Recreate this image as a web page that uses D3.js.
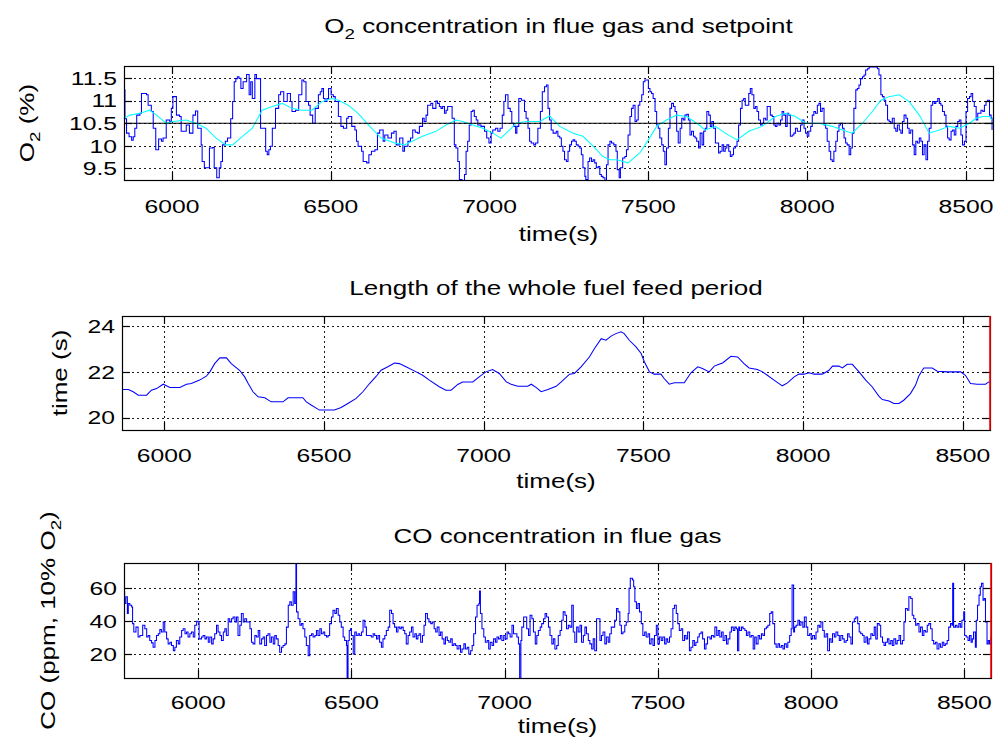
<!DOCTYPE html>
<html><head><meta charset="utf-8">
<script src="https://cdn.jsdelivr.net/npm/d3@7"></script>
<style>
body{margin:0;background:#fff}
svg{display:block}
text{font-family:"Liberation Sans",Arial,Helvetica,sans-serif;fill:#000}
</style>
</head><body>
<svg id="c" width="1000" height="747"></svg>
<script>
// ---------------- DATA ----------------
const xTicks = [6000, 6500, 7000, 7500, 8000, 8500];
const o2Ticks = [9.5, 10, 10.5, 11, 11.5];
const periodTicks = [20, 22, 24];
const coTicks = [20, 40, 60];
const o2Reference = 10.5;

// O2 concentration in flue gas [time (s), O2 (%)]
const o2Measured = [
[5849,11.24],[5852,10.6],[5857,10.28],[5865,10.2],[5873,10.12],[5878,10.2],[5883,10.39],[5889,10.68],[5899,10.72],[5904,11.16],[5911,11.16],[5920,11.13],[5925,10.90],[5935,10.76],[5941,10.39],[5949,9.91],[5953,9.91],[5958,10.15],[5967,10.10],[5972,10.17],[5982,10.57],[5993,10.54],[5998,10.83],[6003,11.09],[6014,10.68],[6024,10.65],[6029,10.32],[6040,10.32],[6045,10.46],[6055,10.28],[6066,10.68],[6074,10.77],[6081,10.39],[6092,10.02],[6095,9.65],[6102,9.51],[6113,9.51],[6118,9.95],[6128,9.96],[6133,9.51],[6141,9.29],[6149,9.51],[6154,9.65],[6159,10.02],[6168,10.10],[6175,10.17],[6185,10.6],[6191,10.98],[6196,11.42],[6201,11.49],[6206,11.53],[6211,11.5],[6217,11.27],[6224,11.42],[6235,11.58],[6243,11.13],[6248,11.42],[6253,11.05],[6261,11.58],[6266,11.49],[6279,10.39],[6295,9.88],[6300,9.80],[6305,9.91],[6310,9.99],[6316,10.39],[6321,10.39],[6326,10.83],[6336,11.13],[6342,11.20],[6352,10.98],[6363,11.16],[6373,10.98],[6378,10.76],[6389,10.79],[6399,11.13],[6409,11.46],[6415,11.42],[6422,10.98],[6430,10.90],[6435,10.68],[6443,10.50],[6451,10.83],[6461,11.13],[6467,11.20],[6472,11.27],[6477,11.05],[6482,10.98],[6488,11.05],[6493,11.27],[6501,11.13],[6508,11.09],[6514,10.98],[6524,10.65],[6532,10.43],[6540,10.39],[6550,10.61],[6555,10.65],[6566,10.43],[6576,10.35],[6581,10.10],[6586,9.99],[6597,9.88],[6602,9.65],[6613,9.62],[6620,9.80],[6628,9.88],[6639,9.91],[6647,10.28],[6654,10.35],[6665,10.10],[6670,10.24],[6680,10.17],[6691,10.28],[6699,10.32],[6706,10.02],[6717,10.17],[6727,9.88],[6732,9.99],[6743,10.10],[6751,10.17],[6758,10.35],[6766,10.30],
[6773,10.28],[6779,10.43],[6789,10.61],[6794,10.54],[6800,10.68],[6805,10.90],[6815,10.94],[6821,10.83],[6831,10.99],[6836,10.94],[6842,10.87],[6847,10.83],[6852,10.87],[6858,10.72],[6863,10.79],[6868,10.87],[6875,10.87],[6882,10.61],[6889,10.02],[6894,9.95],[6900,9.65],[6905,9.25],[6913,9.21],[6921,9.36],[6926,9.88],[6931,10.10],[6936,10.46],[6942,10.76],[6947,10.79],[6952,10.65],[6958,10.57],[6963,10.46],[6973,10.43],[6984,10.32],[6991,10.17],[6998,10.06],[7005,10.28],[7010,10.35],[7019,10.39],[7026,10.32],[7033,10.39],[7040,10.68],[7045,10.98],[7050,11.13],[7058,10.83],[7065,10.76],[7070,10.50],[7076,10.43],[7082,10.28],[7086,10.43],[7092,11.05],[7100,11.01],[7110,10.76],[7115,10.61],[7121,10.39],[7126,10.10],[7131,10.06],[7139,10.02],[7145,10.06],[7152,10.39],[7160,10.76],[7166,11.20],[7173,11.31],[7179,11.35],[7184,10.83],[7189,10.57],[7194,10.35],[7200,10.28],[7210,10.32],[7215,10.21],[7221,10.17],[7226,9.99],[7231,9.88],[7236,9.69],[7242,9.65],[7247,9.88],[7252,10.02],[7258,10.10],[7263,10.13],[7268,10.10],[7273,10.02],[7279,9.99],[7284,9.95],[7289,9.80],[7294,9.51],[7300,9.32],[7303,9.25],[7310,9.65],[7315,9.73],[7321,9.65],[7326,9.69],[7331,9.62],[7336,9.51],[7342,9.54],[7347,9.36],[7352,9.32],[7357,9.29],[7363,9.21],[7368,9.58],[7373,10.02],[7379,10.10],[7384,10.06],[7391,10.02],[7398,9.88],[7402,9.47],[7408,9.29],[7412,9.51],[7419,9.73],[7426,9.76],[7431,9.91],[7436,10.24],[7442,10.65],[7447,10.83],[7452,10.90],[7458,10.54],[7463,10.57],[7468,10.90],[7473,10.98],[7479,11.13],[7484,11.42],[7489,11.46],[7494,11.46],[7500,11.27],[7505,11.20],[7510,11.16],[7515,11.05],[7521,10.76],[7526,10.46],[7531,10.39],[7536,10.17],[7542,10.02],[7547,9.88],[7552,9.58],[7557,9.95],[7563,10.39],[7568,10.83],[7573,10.94],[7579,10.87],[7584,10.76],[7589,10.32],[7594,10.06],[7600,10.39],[7605,10.61],[7610,10.57],[7615,10.68],[7621,10.70],[7626,10.57],[7631,10.24],[7636,10.32],[7642,10.21],[7647,10.17],[7652,10.10],[7658,9.95],
[7663,10.28],[7669,10.02],[7674,10.32],[7679,10.39],[7684,10.76],[7690,10.68],[7695,10.43],[7700,10.54],[7705,10.39],[7711,10.06],[7716,10.06],[7721,9.84],[7726,9.88],[7732,10.02],[7737,9.88],[7742,9.95],[7747,10.02],[7753,9.88],[7758,9.76],[7763,9.80],[7768,9.95],[7774,9.99],[7779,10.10],[7784,10.46],[7790,10.83],[7795,11.01],[7800,11.05],[7805,10.90],[7811,10.90],[7816,11.16],[7821,11.27],[7826,11.13],[7832,10.83],[7837,10.87],[7842,10.76],[7847,10.57],[7853,10.46],[7858,10.50],[7863,10.61],[7869,10.57],[7874,10.87],[7879,10.87],[7884,10.68],[7890,10.65],[7895,10.46],[7900,10.43],[7905,10.50],[7911,10.46],[7916,10.57],[7921,10.76],[7926,10.68],[7932,10.43],[7937,10.72],[7942,10.68],[7947,10.21],[7953,10.24],[7958,10.28],[7963,10.39],[7969,10.32],[7974,10.32],[7979,10.46],[7984,10.57],[7990,10.39],[7995,10.28],[8000,10.21],[8005,10.32],[8011,10.43],[8016,10.68],[8021,10.76],[8026,10.72],[8032,10.90],[8037,10.94],[8042,10.76],[8047,10.83],[8053,10.46],[8058,10.39],[8063,10.10],[8069,9.88],[8074,9.69],[8079,9.65],[8084,9.88],[8090,10.10],[8095,10.32],[8100,10.46],[8105,10.50],[8111,10.39],[8116,10.17],[8121,10.06],[8126,10.02],[8132,9.80],[8137,9.95],[8142,10.28],[8147,10.83],[8153,11.24],[8158,11.27],[8163,11.35],[8168,11.49],[8174,11.53],[8179,11.57],[8184,11.68],[8190,11.71],[8195,11.75],[8205,11.75],[8216,11.75],[8221,11.71],[8226,11.57],[8232,11.13],[8237,11.09],[8242,11.01],[8247,10.90],[8253,10.57],[8258,10.54],[8263,10.50],[8268,10.61],[8274,10.39],[8279,10.32],[8284,10.46],[8290,10.35],[8295,10.28],[8300,10.54],[8305,10.68],[8311,10.61],[8316,10.39],[8321,10.28],[8326,10.35],[8332,10.02],[8337,9.80],[8342,10.10],[8347,10.06],[8353,10.17],[8358,10.10],[8363,9.80],[8368,10.02],[8374,9.69],[8379,10.10],[8384,10.39],[8390,10.90],[8395,10.98],[8400,10.94],[8405,10.98],[8411,11.05],[8416,10.94],[8421,10.90],[8426,10.76],[8432,10.68],[8437,10.43],[8442,10.17],[8447,10.13],[8453,10.32],[8458,10.35],[8463,10.24],[8468,10.43],[8474,10.54],[8479,10.57],[8484,10.24],[8489,10.02],[8495,10.10],[8500,10.76],[8505,11.05],[8511,11.09],[8516,11.16],[8521,10.98],[8526,10.87],[8532,10.57],[8537,10.72],[8542,10.72],[8547,10.79],[8553,10.76],[8558,10.90],[8563,10.98],[8568,11.01],[8574,10.68],[8579,10.61],[8582,10.35]
];

// O2 setpoint [time (s), O2 (%)]
const o2Setpoint = [
[5849,10.61],[5868,10.68],[5899,10.72],[5930,10.79],[5951,10.68],[5982,10.50],[6003,10.54],[6045,10.57],[6076,10.50],[6107,10.39],[6139,10.17],[6170,10.02],[6191,10.02],[6222,10.21],[6253,10.39],[6284,10.79],[6316,10.87],[6347,10.94],[6378,10.83],[6409,10.79],[6441,10.79],[6472,10.98],[6503,11.05],[6524,11.01],[6555,10.90],[6586,10.72],[6628,10.39],[6659,10.17],[6701,10.06],[6732,10.02],
[6789,10.21],[6831,10.32],[6863,10.46],[6894,10.57],[6915,10.54],[6947,10.46],[6979,10.39],[7010,10.28],[7036,10.17],[7063,10.35],[7084,10.50],[7115,10.54],[7158,10.54],[7189,10.66],[7221,10.43],[7263,10.28],[7294,10.21],[7326,9.99],[7357,9.76],[7379,9.69],[7400,9.69],[7436,9.62],[7473,9.84],[7500,10.13],[7526,10.43],[7557,10.57],[7589,10.68],[7621,10.65],[7652,10.50],
[7679,10.35],[7711,10.43],[7742,10.28],[7779,10.13],[7816,10.32],[7858,10.43],[7900,10.65],[7932,10.72],[7963,10.65],[7995,10.50],[8037,10.50],[8079,10.43],[8111,10.35],[8142,10.28],[8174,10.50],[8205,10.76],[8232,11.01],[8258,11.09],[8290,11.13],[8321,10.98],[8353,10.68],[8384,10.28],[8416,10.35],[8447,10.43],[8479,10.39],[8511,10.50],[8532,10.61],[8553,10.65],[8574,10.65],[8582,10.57]
];

// Length of the whole fuel feed period [time (s), period (s)]
const feedPeriod = [
[5869,21.23],[5888,21.23],[5903,21.13],[5919,20.98],[5945,20.98],[5960,21.20],[5976,21.27],[5997,21.46],[6018,21.32],[6049,21.32],[6070,21.46],[6085,21.49],[6111,21.64],[6132,21.81],[6143,22.00],[6158,22.36],[6174,22.61],[6195,22.61],[6210,22.36],[6236,22.07],[6252,21.78],[6263,21.49],[6278,21.13],[6294,20.91],[6315,20.87],[6335,20.69],[6372,20.69],[6388,20.87],[6434,20.87],[6445,20.69],[6460,20.55],[6486,20.33],[6533,20.33],[6554,20.44],[6575,20.62],[6601,20.84],[6622,21.13],[6643,21.49],[6664,21.81],[6679,22.07],[6700,22.22],[6721,22.39],[6736,22.36],[6757,22.22],[6789,22.00],[6809,21.85],[6830,21.64],[6861,21.35],[6882,21.20],[6898,21.20],[6919,21.45],[6934,21.56],[6966,21.56],[6986,21.78],[7007,22.00],[7028,22.10],[7049,21.93],
[7071,21.56],[7086,21.46],[7107,21.37],[7138,21.37],[7149,21.46],[7164,21.32],[7180,21.13],[7201,21.23],[7227,21.37],[7243,21.56],[7269,21.90],[7284,21.93],[7305,22.22],[7331,22.65],[7347,23.02],[7368,23.45],[7383,23.38],[7399,23.56],[7414,23.67],[7430,23.75],[7440,23.67],[7456,23.38],[7477,23.09],[7493,22.80],[7503,22.44],[7519,22.00],[7534,21.90],[7555,21.90],[7565,21.71],[7581,21.46],[7597,21.52],[7628,21.52],[7649,21.96],[7670,22.22],[7685,22.15],[7706,22.00],[7722,22.25],[7737,22.33],[7748,22.39],[7774,22.68],[7795,22.65],[7815,22.36],[7831,22.17],[7857,22.10],[7873,22.00],[7888,21.85],[7909,21.64],[7935,21.39],[7951,21.52],[7972,21.78],[7987,21.90],[8003,21.90],[8019,21.96],[8034,21.90],[8060,21.90],[8081,22.07],[8092,22.25],[8112,22.25],[8123,22.17],[8138,22.33],[8154,22.33],[8175,22.00],[8196,21.64],[8216,21.35],[8237,20.94],[8248,20.79],[8269,20.73],[8284,20.62],[8300,20.62],[8315,20.76],[8336,21.05],[8352,21.42],[8362,21.81],[8373,22.07],[8378,22.17],[8404,22.17],[8420,22.03],[8451,22.00],[8493,22.00],[8508,21.85],[8524,21.49],[8545,21.46],[8571,21.46],[8581,21.56],[8586,21.56]
];

// CO concentration in flue gas [time (s), CO (ppm, 10% O2)]
const coConcentration = [
[5758,57.7],[5760,50.6],[5764,54.6],[5769,44.5],[5772,50.6],[5777,49.5],[5783,48.5],[5786,38.4],[5790,33.3],[5797,36.3],[5804,30.3],[5810,31.3],[5819,37.4],[5826,35.3],[5832,30.3],[5837,31.3],[5842,28.2],[5848,26.8],[5853,24.2],[5859,28.2],[5864,31.3],[5870,32.3],[5875,34.9],[5880,33.3],[5886,39.4],[5891,33.3],[5897,29.2],[5902,26.2],[5908,27.2],[5913,25.2],[5919,22.1],[5924,24.2],[5929,28.2],[5935,26.2],[5940,30.3],[5946,34.3],[5951,35.3],[5957,32.3],[5962,33.3],[5967,30.3],[5973,32.3],[5978,33.3],[5984,30.3],[5989,37.4],[5995,39.8],[6000,39.4],[6003,29.2],[6011,30.3],[6016,31.3],[6022,29.2],[6027,30.3],[6033,27.2],[6038,30.3],[6044,26.2],[6049,29.2],[6054,32.3],[6060,37.4],[6065,33.3],[6071,31.3],[6076,28.2],[6082,33.3],[6087,35.3],[6092,31.3],[6098,41.4],[6103,39.4],[6109,41.4],[6114,42.4],[6120,39.4],[6125,42.4],[6130,31.3],[6136,37.4],[6141,44.5],[6147,39.4],[6152,41.4],[6158,39.4],[6163,39.4],[6169,35.3],[6174,27.2],[6179,26.2],[6185,31.3],[6190,30.3],[6196,34.3],[6201,26.2],[6207,29.2],[6212,30.3],[6217,25.2],[6223,31.3],[6228,32.3],[6234,27.2],[6239,30.3],[6245,26.2],[6250,31.3],[6255,29.2],[6261,25.2],[6266,21.1],[6272,24.2],[6277,25.2],[6283,26.2],[6288,36.3],[6294,49.5],[6299,51.6],[6304,49.5],[6310,57.7],[6315,50.6],[6319,76],[6321,45.5],[6326,41.4],[6332,37.4],[6337,38.4],[6342,35.3],[6348,30.3],[6353,25.2],[6359,19.1],[6364,31.3],[6370,32.3],[6375,30.3],[6381,31.3],[6386,34.3],[6391,31.3],[6397,35.3],[6402,32.3],[6408,33.3],[6413,31.3],[6419,30.3],[6424,31.3],[6429,38.4],[6435,42.4],[6440,46.5],[6446,44.5],[6451,47.5],[6457,43.5],[6462,39.4],[6467,36.3],[6473,30.3],[6478,28.2],[6484,25.2],[6486,4.9],[6489,28.2],[6493,34.3],[6497,35.3],[6500,31.3],[6506,20.1],[6511,33.3],[6516,31.3],[6522,32.3],[6527,31.3],[6533,33.3],[6538,40.4],[6544,36.3],[6549,31.3],[6554,31.3],[6560,31.3],[6565,30.3],[6571,32.3],[6576,31.3],[6582,29.2],[6587,31.3],[6592,27.2],[6598,24.2],[6603,29.2],[6609,31.3],[6614,34.3],[6620,36.3],[6625,46.5],[6631,44.5],[6636,38.4],[6641,36.3],[6647,33.3],[6652,36.3],[6658,35.3],[6663,36.3],[6669,34.3],[6674,32.3],[6679,26.2],[6685,31.3],[6690,33.3],[6696,36.3],[6701,30.3],[6707,32.3],[6712,29.2],[6717,31.3],
[6721,32.3],[6726,27.2],[6732,31.3],[6737,37.4],[6742,44.5],[6748,41.4],[6753,39.4],[6759,38.4],[6764,39.4],[6770,35.3],[6775,33.3],[6780,36.3],[6786,31.3],[6791,33.3],[6796,29.2],[6802,26.2],[6807,30.3],[6813,28.2],[6818,27.2],[6824,29.2],[6829,25.2],[6834,26.2],[6840,25.2],[6845,23.1],[6851,25.2],[6856,21.1],[6861,23.1],[6867,26.2],[6872,23.1],[6878,24.2],[6883,20.1],[6889,22.1],[6894,25.2],[6899,32.3],[6905,42.4],[6910,49.5],[6916,50.6],[6918,58.1],[6921,44.5],[6926,35.3],[6932,30.3],[6937,27.2],[6943,28.2],[6948,23.1],[6953,27.2],[6959,25.2],[6964,29.2],[6970,27.2],[6975,30.3],[6980,29.2],[6986,31.3],[6991,28.2],[6997,31.3],[7002,29.2],[7008,33.3],[7013,32.3],[7018,30.3],[7024,37.4],[7029,32.3],[7035,32.3],[7040,30.3],[7045,26.2],[7049,4.9],[7053,28.2],[7056,36.3],[7062,42.4],[7067,42.4],[7072,35.3],[7078,31.3],[7083,43.5],[7089,41.4],[7094,33.3],[7100,26.2],[7105,31.3],[7110,34.3],[7116,36.3],[7121,38.4],[7127,41.4],[7132,44.5],[7137,42.4],[7143,36.3],[7148,31.3],[7154,26.2],[7159,29.2],[7164,23.1],[7170,25.2],[7175,31.3],[7181,34.3],[7186,40.4],[7191,45.5],[7197,43.5],[7202,35.3],[7208,37.4],[7213,36.3],[7219,49.5],[7224,33.3],[7229,27.2],[7235,36.3],[7240,33.3],[7246,37.4],[7251,27.2],[7257,31.3],[7262,36.3],[7267,32.3],[7273,28.2],[7278,26.2],[7284,23.1],[7289,29.2],[7294,22.1],[7300,41.4],[7305,41.4],[7311,28.2],[7316,31.3],[7321,33.3],[7327,26.2],[7332,30.3],[7338,27.2],[7343,32.3],[7348,36.3],[7354,36.3],[7359,40.4],[7365,47.5],[7370,45.5],[7376,37.4],[7381,32.3],[7386,33.3],[7392,37.4],[7397,39.4],[7403,44.5],[7406,59.7],[7410,65.8],[7417,64.8],[7421,60.7],[7425,51.6],[7430,47.5],[7435,50.6],[7440,45.5],[7446,38.4],[7451,31.3],[7457,33.3],[7462,30.3],[7468,32.3],[7473,26.2],[7478,29.2],[7484,25.2],[7489,31.3],[7495,37.4],[7500,26.2],[7505,30.3],[7511,28.2],[7516,30.3],[7522,26.2],[7527,29.2],[7532,27.2],[7538,30.3],[7543,35.3],[7549,47.5],[7554,49.5],[7560,44.5],[7565,38.4],[7570,34.3],[7576,35.3],[7581,28.2],[7587,31.3],[7592,29.2],[7597,33.3],[7603,22.1],[7608,24.2],[7614,28.2],[7619,25.2],[7624,27.2],[7630,30.3],[7635,32.3],[7641,33.3],[7646,29.2],[7652,23.1],[7657,26.2],[7662,30.3],
[7670,29.2],[7675,31.3],[7681,30.3],[7686,36.3],[7692,31.3],[7697,34.3],[7702,30.3],[7708,33.3],[7713,28.2],[7719,31.3],[7724,26.2],[7729,29.2],[7735,33.3],[7740,36.3],[7746,34.3],[7751,36.3],[7756,35.3],[7760,22.1],[7764,36.3],[7767,34.3],[7773,36.3],[7778,35.3],[7784,34.3],[7789,31.3],[7794,33.3],[7800,30.3],[7805,31.3],[7811,23.1],[7816,30.3],[7821,26.2],[7827,31.3],[7832,29.2],[7838,32.3],[7843,31.3],[7848,35.3],[7854,36.3],[7859,37.4],[7865,44.5],[7870,45.5],[7875,38.4],[7881,26.2],[7886,24.2],[7892,26.2],[7897,24.2],[7903,25.2],[7908,23.1],[7913,26.2],[7919,24.2],[7924,27.2],[7930,31.3],[7935,35.3],[7938,61.7],[7943,33.3],[7946,36.3],[7951,37.4],[7957,40.4],[7962,37.4],[7967,39.4],[7973,36.3],[7978,42.4],[7984,36.3],[7989,31.3],[7995,32.3],[8000,29.2],[8005,31.3],[8011,29.2],[8016,33.3],[8022,37.4],[8027,36.3],[8032,39.4],[8038,34.3],[8043,30.3],[8049,32.3],[8054,22.1],[8060,29.2],[8065,27.2],[8070,32.3],[8076,30.3],[8081,33.3],[8087,31.3],[8092,28.2],[8097,31.3],[8103,29.2],[8108,27.2],[8114,28.2],[8119,32.3],[8124,30.3],[8130,26.2],[8135,39.4],[8141,41.4],[8146,42.4],[8152,38.4],[8157,33.3],[8162,32.3],[8168,31.3],[8173,27.2],[8179,30.3],[8184,26.2],[8189,29.2],[8195,32.3],[8200,31.3],[8206,36.3],[8211,29.2],[8216,38.4],[8222,37.4],[8227,30.3],[8233,27.2],[8238,25.2],[8243,27.2],[8249,29.2],[8254,26.2],[8260,28.2],[8265,25.2],[8270,29.2],[8276,26.2],[8281,28.2],[8287,31.3],[8292,26.2],[8298,28.2],[8303,39.4],[8308,47.5],[8314,46.5],[8319,54.6],[8325,53.6],[8330,43.5],[8335,41.4],[8341,37.4],[8346,38.4],[8352,33.3],[8357,36.3],[8363,31.3],[8368,34.3],[8373,33.3],[8379,37.4],[8384,38.4],[8390,35.3],[8395,28.2],[8400,26.2],[8406,27.2],[8411,23.1],[8417,26.2],[8422,24.2],[8428,27.2],[8433,25.2],[8438,26.2],[8444,28.2],[8449,36.3],[8455,38.4],[8460,37.4],[8462,62.7],[8465,36.3],[8471,37.4],[8476,36.3],[8482,38.4],[8487,36.3],[8492,40.4],[8498,45.5],[8501,31.3],[8506,30.3],[8512,28.2],[8517,31.3],[8522,27.2],[8526,29.2],[8530,33.3],[8536,24.2],[8539,40.4],[8543,49.5],[8548,55.6],[8552,60.7],[8556,62.7],[8561,52.6],[8565,53.6],[8569,39.4],[8574,26.2],[8578,28.2],[8582,26.2],[8587,30.3]
];

// ---------------- LAYOUT ----------------
const SX = 1.3;            // horizontal stretch of the original lettering
const FONT = 19, TFONT = 20;
const panels = [
  {box:{l:124,r:993,t:66,b:180}, xDom:[5849,8585], yDom:[9.24,11.77], yTicks:o2Ticks,
   title:[{t:"O"},{t:"2",sub:true},{t:" concentration in flue gas and setpoint"}], titleY:33,
   tickY:213, xlabY:241, ylab:[{t:"O"},{t:"2",sub:true},{t:" (%)"}], ylabX:34,
   series:[{d:o2Measured,c:"#0000ff",step:true},{d:o2Setpoint,c:"#00ffff",step:false}], ref:o2Reference, redLine:false},
  {box:{l:122,r:990,t:316,b:430}, xDom:[5868,8585], yDom:[19.46,24.44], yTicks:periodTicks,
   title:[{t:"Length of the whole fuel feed period"}], titleY:295,
   tickY:462, xlabY:488, ylab:[{t:"time (s)"}], ylabX:67,
   series:[{d:feedPeriod,c:"#0000ff",step:false}], ref:null, redLine:true},
  {box:{l:124,r:991,t:563,b:678}, xDom:[5758,8587], yDom:[5.6,75], yTicks:coTicks,
   title:[{t:"CO concentration in flue gas"}], titleY:543,
   tickY:709, xlabY:733, ylab:[{t:"CO (ppm, 10% O"},{t:"2",sub:true},{t:")"}], ylabX:55,
   series:[{d:coConcentration,c:"#0000ff",step:true}], ref:null, redLine:true}
];

const svg = d3.select("#c");
svg.append("rect").attr("width",1000).attr("height",747).attr("fill","#fff");

function richText(g, x, y, parts, size, rot, anchor){
  const t = g.append("text")
    .attr("transform", `translate(${x},${y}) rotate(${rot||0}) scale(${SX},1)`)
    .attr("text-anchor", anchor||"middle")
    .style("font-size", size+"px");
  let shifted = false;
  parts.forEach(p=>{
    const ts = t.append("tspan").text(p.t);
    if(p.sub){ ts.attr("dy", size*0.32).style("font-size",(size*0.72)+"px"); shifted=true; }
    else if(shifted){ ts.attr("dy", -size*0.32); shifted=false; }
  });
  return t;
}

panels.forEach((p,i)=>{
  const b = p.box;
  const x = d3.scaleLinear().domain(p.xDom).range([b.l,b.r]);
  const y = d3.scaleLinear().domain(p.yDom).range([b.b,b.t]);
  const g = svg.append("g");
  const cid = "clip"+i;
  g.append("clipPath").attr("id",cid).append("rect")
    .attr("x",b.l).attr("y",b.t).attr("width",b.r-b.l).attr("height",b.b-b.t);

  // grid
  const grid = g.append("g").attr("stroke","#000").attr("stroke-width",0.9).attr("stroke-dasharray","2,3");
  xTicks.forEach(v=>{
    const xx = Math.round(x(v))+0.5;
    grid.append("line").attr("x1",xx).attr("x2",xx).attr("y1",b.t).attr("y2",b.b);
  });
  p.yTicks.forEach(v=>{
    const yy = Math.round(y(v))+0.5;
    grid.append("line").attr("x1",b.l).attr("x2",b.r).attr("y1",yy).attr("y2",yy);
  });

  // data
  const plot = g.append("g").attr("clip-path",`url(#${cid})`);
  p.series.forEach(s=>{
    const line = d3.line().x(d=>x(d[0])).y(d=>y(d[1])).curve(s.step ? d3.curveStepAfter : d3.curveLinear);
    plot.append("path").datum(s.d).attr("d",line).attr("fill","none")
      .attr("stroke",s.c).attr("stroke-width",1.05).attr("stroke-linejoin","miter");
  });
  if(p.ref!==null){
    const line = d3.line().x(d=>x(d[0])).y(d=>y(d[1]));
    plot.append("path").datum([[p.xDom[0],p.ref],[p.xDom[1],p.ref]]).attr("d",line)
      .attr("fill","none").attr("stroke","#000").attr("stroke-width",1.1);
  }

  // box and ticks
  const ax = g.append("g").attr("stroke","#000").attr("stroke-width",1.2).attr("fill","none");
  const TL = 8;
  xTicks.forEach(v=>{
    const xx = Math.round(x(v))+0.5;
    ax.append("line").attr("x1",xx).attr("x2",xx).attr("y1",b.b).attr("y2",b.b-TL);
    ax.append("line").attr("x1",xx).attr("x2",xx).attr("y1",b.t).attr("y2",b.t+TL);
  });
  p.yTicks.forEach(v=>{
    const yy = Math.round(y(v))+0.5;
    ax.append("line").attr("x1",b.l).attr("x2",b.l+TL).attr("y1",yy).attr("y2",yy);
    ax.append("line").attr("x1",b.r).attr("x2",b.r-TL).attr("y1",yy).attr("y2",yy);
  });
  ax.append("rect").attr("x",b.l+0.5).attr("y",b.t+0.5).attr("width",b.r-b.l).attr("height",b.b-b.t);

  if(p.redLine){
    g.append("line").attr("x1",x(p.xDom[1])).attr("x2",x(p.xDom[1]))
      .attr("y1",b.t).attr("y2",b.b).attr("stroke","#ff0000").attr("stroke-width",1.6);
  }

  // tick labels
  xTicks.forEach(v=>{
    richText(g, x(v), p.tickY, [{t:String(v)}], FONT, 0, "middle");
  });
  p.yTicks.forEach(v=>{
    richText(g, b.l-7, y(v)+6.8, [{t:d3.format("~g")(v)}], FONT, 0, "end");
  });

  // titles / labels
  richText(g, (b.l+b.r)/2, p.titleY, p.title, TFONT, 0, "middle");
  richText(g, (b.l+b.r)/2, p.xlabY, [{t:"time(s)"}], TFONT, 0, "middle");
  richText(g, p.ylabX, (b.t+b.b)/2, p.ylab, TFONT, -90, "middle");
});
</script>
</body></html>
